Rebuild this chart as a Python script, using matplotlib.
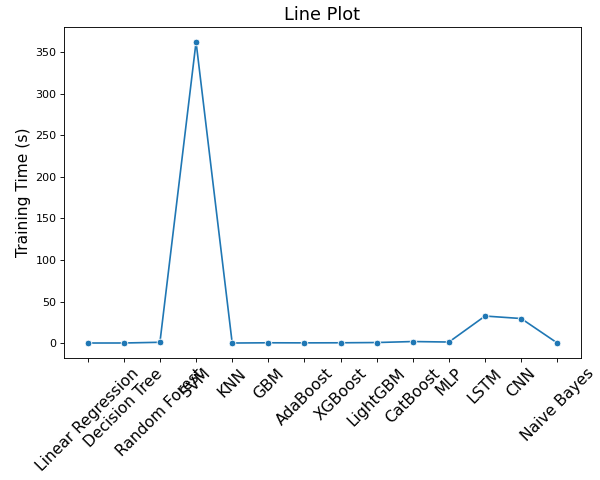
import matplotlib
matplotlib.use("Agg")
import matplotlib.pyplot as plt
import seaborn as sns

models = ["Linear Regression", "Decision Tree", "Random Forest", "SVM", "KNN", "GBM",
          "AdaBoost", "XGBoost", "LightGBM", "CatBoost", "MLP", "LSTM", "CNN", "Naive Bayes"]
train_time = [0.02, 0.05, 0.9, 362.5, 0.01, 0.3, 0.2, 0.3, 0.6, 1.8, 1.2, 32.5, 29.5, 0.01]

fig = plt.figure(figsize=(7.5, 6), dpi=80)
ax = sns.lineplot(x=models, y=train_time, marker="o", sort=False)
ax.set_title("Line Plot", fontsize=16)
ax.set_ylabel("Training Time (s)", fontsize=14)
plt.xticks(rotation=45, fontsize=14)
plt.subplots_adjust(left=0.107, right=0.968, top=0.944, bottom=0.254)
plt.savefig("out.png", dpi=80)
